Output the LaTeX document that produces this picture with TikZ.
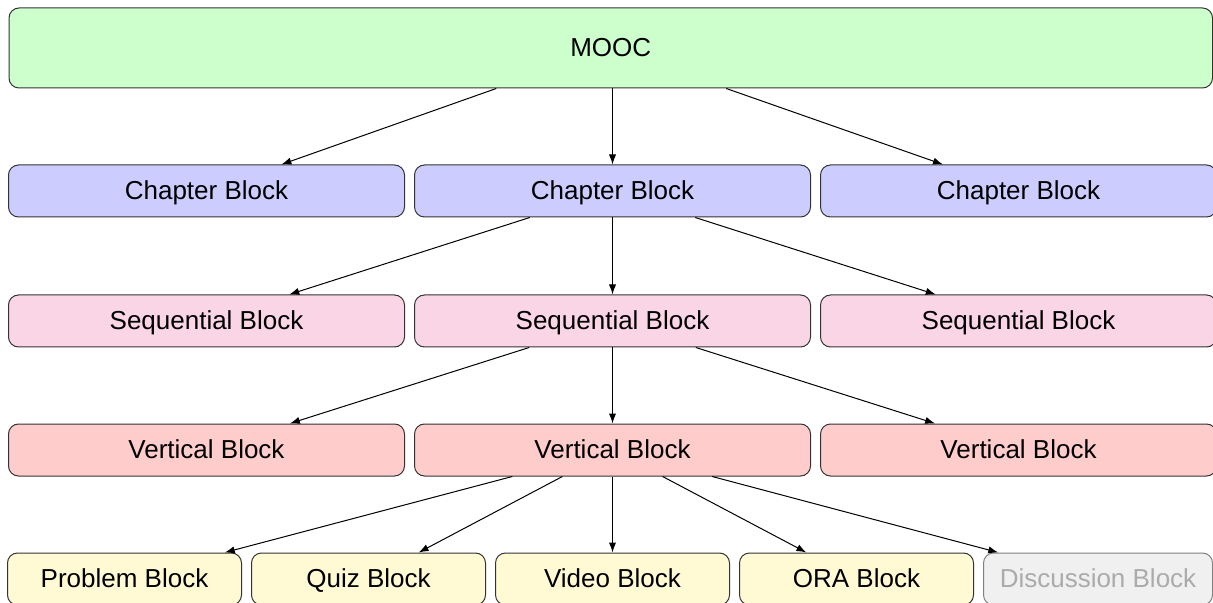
\documentclass[tikz,border=0pt]{standalone}
\usepackage{fontspec}
\setmainfont{Liberation Sans}
\usepackage{xcolor}
\usepackage{tikz}
\usetikzlibrary{arrows.meta,positioning}

\definecolor{moocgreen}{HTML}{CCFFCC}
\definecolor{chapblue}{HTML}{CCCCFF}
\definecolor{seqpink}{HTML}{F9D5E5}
\definecolor{vertred}{HTML}{FFCCCC}
\definecolor{leafyellow}{HTML}{FFFAD4}
\definecolor{discgray}{HTML}{F0F0F0}
\definecolor{edgegray}{HTML}{333333}

\begin{document}
\begin{tikzpicture}[
      x=0.5pt, y=-0.5pt,
      font=\fontsize{13}{15}\selectfont,
      node distance=38pt and 4.5pt,
      blk/.style={draw=edgegray, line width=0.5pt, rounded corners=5pt, align=center, inner sep=0pt, text height=9.4pt, text depth=0.9pt, minimum width=198pt, minimum height=26pt},
      leaf/.style={blk, fill=leafyellow, minimum width=117pt},
      arr/.style={-{Latex[length=5pt,width=3.6pt]}, line width=0.5pt}
    ]
    \path[use as bounding box, clip] (0,0) rectangle (1213,603);

    % Top: the course itself
    \node[blk, fill=moocgreen, minimum width=601.75pt, minimum height=40pt] (mooc) at (610.75,48) {MOOC};

    % Chapter row
    \node[blk, fill=chapblue, below=38pt of mooc, xshift=0.875pt] (chapB) {Chapter Block};
    \node[blk, fill=chapblue, left=of chapB] (chapA) {Chapter Block};
    \node[blk, fill=chapblue, right=of chapB] (chapC) {Chapter Block};

    % Sequential row
    \node[blk, fill=seqpink, below=38.5pt of chapB] (seqB) {Sequential Block};
    \node[blk, fill=seqpink, left=of seqB] (seqA) {Sequential Block};
    \node[blk, fill=seqpink, right=of seqB] (seqC) {Sequential Block};

    % Vertical row
    \node[blk, fill=vertred, below=of seqB] (vertB) {Vertical Block};
    \node[blk, fill=vertred, left=of vertB] (vertA) {Vertical Block};
    \node[blk, fill=vertred, right=of vertB] (vertC) {Vertical Block};

    % Bottom: leaf blocks (discussion greyed out)
    \node[leaf, below=of vertB] (video) {Video Block};
    \node[leaf, left=of video] (quiz) {Quiz Block};
    \node[leaf, left=of quiz] (problem) {Problem Block};
    \node[leaf, right=of video] (ora) {ORA Block};
    \node[leaf, fill=discgray, draw=gray, text=black!33, minimum width=114.5pt, right=of ora] (disc) {Discussion Block};

    % Center-to-center connectors
    \draw[arr] (mooc) -- (chapA);
    \draw[arr] (chapB |- mooc.south) -- (chapB);
    \draw[arr] (mooc) -- (chapC);

    \draw[arr] (chapB) -- (seqA);
    \draw[arr] (chapB) -- (seqB);
    \draw[arr] (chapB) -- (seqC);

    \draw[arr] (seqB) -- (vertA);
    \draw[arr] (seqB) -- (vertB);
    \draw[arr] (seqB) -- (vertC);

    \draw[arr] (vertB) -- (problem);
    \draw[arr] (vertB) -- (quiz);
    \draw[arr] (vertB) -- (video);
    \draw[arr] (vertB) -- (ora);
    \draw[arr] (vertB) -- (disc);
  \end{tikzpicture}
\end{document}
